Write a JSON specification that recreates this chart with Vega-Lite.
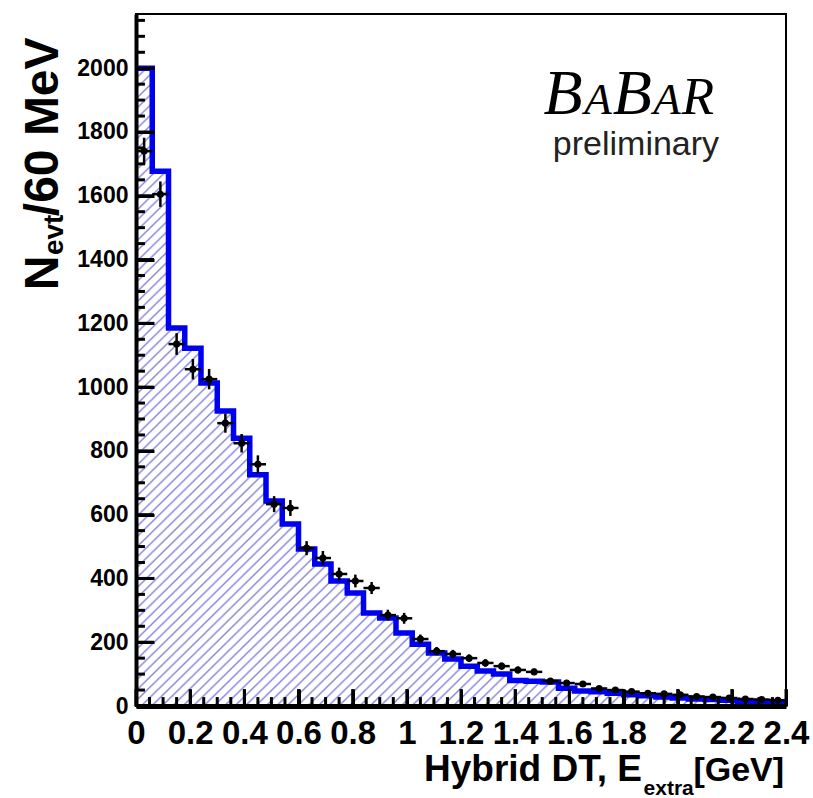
{
"$schema":"https://vega.github.io/schema/vega-lite/v6.json",
"width":650,"height":692,
"autosize":{"type":"none"},
"padding":{"left":136,"top":14,"right":27,"bottom":92},
"background":"white",
"config":{"view":{"stroke":"black","strokeWidth":2},"font":"Liberation Sans"},
"resolve":{"axis":{"x":"independent","y":"independent"}},
"datasets":{
"hist":[{"x":0,"h":2000},{"x":0.06,"h":1677},{"x":0.12,"h":1185},{"x":0.18,"h":1122},{"x":0.24,"h":1013},{"x":0.3,"h":925},{"x":0.36,"h":840},{"x":0.42,"h":725},{"x":0.48,"h":643},{"x":0.54,"h":571},{"x":0.6,"h":492},{"x":0.66,"h":445},{"x":0.72,"h":392},{"x":0.78,"h":354},{"x":0.84,"h":292},{"x":0.9,"h":276},{"x":0.96,"h":229},{"x":1.02,"h":194},{"x":1.08,"h":166},{"x":1.14,"h":147},{"x":1.2,"h":125},{"x":1.26,"h":110},{"x":1.32,"h":100},{"x":1.38,"h":80},{"x":1.44,"h":78},{"x":1.5,"h":75},{"x":1.56,"h":56},{"x":1.62,"h":47},{"x":1.68,"h":45},{"x":1.74,"h":40},{"x":1.8,"h":35},{"x":1.86,"h":32},{"x":1.92,"h":28},{"x":1.98,"h":25},{"x":2.04,"h":22},{"x":2.1,"h":20},{"x":2.16,"h":18},{"x":2.22,"h":15},{"x":2.28,"h":14},{"x":2.34,"h":12},{"x":2.4,"h":12}],
"pts":[{"x0":0,"x1":0.06,"xc":0.03,"d":1740,"lo":1698,"hi":1782},{"x0":0.06,"x1":0.12,"xc":0.09,"d":1605,"lo":1565,"hi":1645},{"x0":0.12,"x1":0.18,"xc":0.15,"d":1135,"lo":1101,"hi":1169},{"x0":0.18,"x1":0.24,"xc":0.21,"d":1056,"lo":1024,"hi":1088},{"x0":0.24,"x1":0.3,"xc":0.27,"d":1025,"lo":993,"hi":1057},{"x0":0.3,"x1":0.36,"xc":0.33,"d":887,"lo":857,"hi":917},{"x0":0.36,"x1":0.42,"xc":0.39,"d":824,"lo":795,"hi":853},{"x0":0.42,"x1":0.48,"xc":0.45,"d":758,"lo":730,"hi":786},{"x0":0.48,"x1":0.54,"xc":0.51,"d":633,"lo":608,"hi":658},{"x0":0.54,"x1":0.6,"xc":0.57,"d":621,"lo":596,"hi":646},{"x0":0.6,"x1":0.66,"xc":0.63,"d":495,"lo":473,"hi":517},{"x0":0.66,"x1":0.72,"xc":0.69,"d":464,"lo":442,"hi":486},{"x0":0.72,"x1":0.78,"xc":0.75,"d":414,"lo":394,"hi":434},{"x0":0.78,"x1":0.84,"xc":0.81,"d":392,"lo":372,"hi":412},{"x0":0.84,"x1":0.9,"xc":0.87,"d":370,"lo":351,"hi":389},{"x0":0.9,"x1":0.96,"xc":0.93,"d":285,"lo":268,"hi":302},{"x0":0.96,"x1":1.02,"xc":0.99,"d":275,"lo":258,"hi":292},{"x0":1.02,"x1":1.08,"xc":1.05,"d":210,"lo":196,"hi":224},{"x0":1.08,"x1":1.14,"xc":1.11,"d":172,"lo":159,"hi":185},{"x0":1.14,"x1":1.2,"xc":1.17,"d":163,"lo":150,"hi":176},{"x0":1.2,"x1":1.26,"xc":1.23,"d":150,"lo":138,"hi":162},{"x0":1.26,"x1":1.32,"xc":1.29,"d":135,"lo":123,"hi":147},{"x0":1.32,"x1":1.38,"xc":1.35,"d":125,"lo":114,"hi":136},{"x0":1.38,"x1":1.44,"xc":1.41,"d":113,"lo":102,"hi":124},{"x0":1.44,"x1":1.5,"xc":1.47,"d":107,"lo":97,"hi":117},{"x0":1.5,"x1":1.56,"xc":1.53,"d":78,"lo":69,"hi":87},{"x0":1.56,"x1":1.62,"xc":1.59,"d":72,"lo":64,"hi":80},{"x0":1.62,"x1":1.68,"xc":1.65,"d":69,"lo":61,"hi":77},{"x0":1.68,"x1":1.74,"xc":1.71,"d":55,"lo":48,"hi":62},{"x0":1.74,"x1":1.8,"xc":1.77,"d":50,"lo":43,"hi":57},{"x0":1.8,"x1":1.86,"xc":1.83,"d":45,"lo":38,"hi":52},{"x0":1.86,"x1":1.92,"xc":1.89,"d":40,"lo":34,"hi":46},{"x0":1.92,"x1":1.98,"xc":1.95,"d":38,"lo":32,"hi":44},{"x0":1.98,"x1":2.04,"xc":2.01,"d":35,"lo":29,"hi":41},{"x0":2.04,"x1":2.1,"xc":2.07,"d":30,"lo":25,"hi":35},{"x0":2.1,"x1":2.16,"xc":2.13,"d":28,"lo":23,"hi":33},{"x0":2.16,"x1":2.22,"xc":2.19,"d":25,"lo":20,"hi":30},{"x0":2.22,"x1":2.28,"xc":2.25,"d":22,"lo":17,"hi":27},{"x0":2.28,"x1":2.34,"xc":2.31,"d":20,"lo":16,"hi":24},{"x0":2.34,"x1":2.4,"xc":2.37,"d":18,"lo":14,"hi":22}],
"xmaj":[{"t":0},{"t":0.2},{"t":0.4},{"t":0.6},{"t":0.8},{"t":1},{"t":1.2},{"t":1.4},{"t":1.6},{"t":1.8},{"t":2},{"t":2.2},{"t":2.4}],
"xmin":[{"t":0.05},{"t":0.1},{"t":0.15},{"t":0.25},{"t":0.3},{"t":0.35},{"t":0.45},{"t":0.5},{"t":0.55},{"t":0.65},{"t":0.7},{"t":0.75},{"t":0.85},{"t":0.9},{"t":0.95},{"t":1.05},{"t":1.1},{"t":1.15},{"t":1.25},{"t":1.3},{"t":1.35},{"t":1.45},{"t":1.5},{"t":1.55},{"t":1.65},{"t":1.7},{"t":1.75},{"t":1.85},{"t":1.9},{"t":1.95},{"t":2.05},{"t":2.1},{"t":2.15},{"t":2.25},{"t":2.3},{"t":2.35}],
"ymaj":[{"v":0},{"v":200},{"v":400},{"v":600},{"v":800},{"v":1000},{"v":1200},{"v":1400},{"v":1600},{"v":1800},{"v":2000}],
"ymin":[{"v":50},{"v":100},{"v":150},{"v":250},{"v":300},{"v":350},{"v":450},{"v":500},{"v":550},{"v":650},{"v":700},{"v":750},{"v":850},{"v":900},{"v":950},{"v":1050},{"v":1100},{"v":1150},{"v":1250},{"v":1300},{"v":1350},{"v":1450},{"v":1500},{"v":1550},{"v":1650},{"v":1700},{"v":1750},{"v":1850},{"v":1900},{"v":1950},{"v":2050},{"v":2100},{"v":2150}],
"one":[{}]
},
"layer":[
{"data":{"name":"hist"},
 "mark":{"type":"area","interpolate":"step-after","fill":{"gradient":"linear","x1":0,"y1":0,"x2":1,"y2":1,"stops":[
{"offset":0,"color":"#88d"},{"offset":0.0016,"color":"rgba(136,136,221,0)"},{"offset":0.0064,"color":"rgba(136,136,221,0)"},{"offset":0.008,"color":"#88d"},{"offset":0.0096,"color":"rgba(136,136,221,0)"},{"offset":0.0144,"color":"rgba(136,136,221,0)"},{"offset":0.016,"color":"#88d"},{"offset":0.0176,"color":"rgba(136,136,221,0)"},{"offset":0.0224,"color":"rgba(136,136,221,0)"},{"offset":0.024,"color":"#88d"},{"offset":0.0256,"color":"rgba(136,136,221,0)"},{"offset":0.0304,"color":"rgba(136,136,221,0)"},{"offset":0.032,"color":"#88d"},{"offset":0.0336,"color":"rgba(136,136,221,0)"},{"offset":0.0384,"color":"rgba(136,136,221,0)"},{"offset":0.04,"color":"#88d"},{"offset":0.0416,"color":"rgba(136,136,221,0)"},{"offset":0.0464,"color":"rgba(136,136,221,0)"},{"offset":0.048,"color":"#88d"},{"offset":0.0496,"color":"rgba(136,136,221,0)"},{"offset":0.0544,"color":"rgba(136,136,221,0)"},{"offset":0.056,"color":"#88d"},{"offset":0.0576,"color":"rgba(136,136,221,0)"},{"offset":0.0624,"color":"rgba(136,136,221,0)"},{"offset":0.064,"color":"#88d"},{"offset":0.0656,"color":"rgba(136,136,221,0)"},{"offset":0.0704,"color":"rgba(136,136,221,0)"},{"offset":0.072,"color":"#88d"},{"offset":0.0736,"color":"rgba(136,136,221,0)"},{"offset":0.0784,"color":"rgba(136,136,221,0)"},
{"offset":0.08,"color":"#88d"},{"offset":0.0816,"color":"rgba(136,136,221,0)"},{"offset":0.0864,"color":"rgba(136,136,221,0)"},{"offset":0.088,"color":"#88d"},{"offset":0.0896,"color":"rgba(136,136,221,0)"},{"offset":0.0944,"color":"rgba(136,136,221,0)"},{"offset":0.096,"color":"#88d"},{"offset":0.0976,"color":"rgba(136,136,221,0)"},{"offset":0.1024,"color":"rgba(136,136,221,0)"},{"offset":0.104,"color":"#88d"},{"offset":0.1056,"color":"rgba(136,136,221,0)"},{"offset":0.1104,"color":"rgba(136,136,221,0)"},{"offset":0.112,"color":"#88d"},{"offset":0.1136,"color":"rgba(136,136,221,0)"},{"offset":0.1184,"color":"rgba(136,136,221,0)"},{"offset":0.12,"color":"#88d"},{"offset":0.1216,"color":"rgba(136,136,221,0)"},{"offset":0.1264,"color":"rgba(136,136,221,0)"},{"offset":0.128,"color":"#88d"},{"offset":0.1296,"color":"rgba(136,136,221,0)"},{"offset":0.1344,"color":"rgba(136,136,221,0)"},{"offset":0.136,"color":"#88d"},{"offset":0.1376,"color":"rgba(136,136,221,0)"},{"offset":0.1424,"color":"rgba(136,136,221,0)"},{"offset":0.144,"color":"#88d"},{"offset":0.1456,"color":"rgba(136,136,221,0)"},{"offset":0.1504,"color":"rgba(136,136,221,0)"},{"offset":0.152,"color":"#88d"},{"offset":0.1536,"color":"rgba(136,136,221,0)"},{"offset":0.1584,"color":"rgba(136,136,221,0)"},
{"offset":0.16,"color":"#88d"},{"offset":0.1616,"color":"rgba(136,136,221,0)"},{"offset":0.1664,"color":"rgba(136,136,221,0)"},{"offset":0.168,"color":"#88d"},{"offset":0.1696,"color":"rgba(136,136,221,0)"},{"offset":0.1744,"color":"rgba(136,136,221,0)"},{"offset":0.176,"color":"#88d"},{"offset":0.1776,"color":"rgba(136,136,221,0)"},{"offset":0.1824,"color":"rgba(136,136,221,0)"},{"offset":0.184,"color":"#88d"},{"offset":0.1856,"color":"rgba(136,136,221,0)"},{"offset":0.1904,"color":"rgba(136,136,221,0)"},{"offset":0.192,"color":"#88d"},{"offset":0.1936,"color":"rgba(136,136,221,0)"},{"offset":0.1984,"color":"rgba(136,136,221,0)"},{"offset":0.2,"color":"#88d"},{"offset":0.2016,"color":"rgba(136,136,221,0)"},{"offset":0.2064,"color":"rgba(136,136,221,0)"},{"offset":0.208,"color":"#88d"},{"offset":0.2096,"color":"rgba(136,136,221,0)"},{"offset":0.2144,"color":"rgba(136,136,221,0)"},{"offset":0.216,"color":"#88d"},{"offset":0.2176,"color":"rgba(136,136,221,0)"},{"offset":0.2224,"color":"rgba(136,136,221,0)"},{"offset":0.224,"color":"#88d"},{"offset":0.2256,"color":"rgba(136,136,221,0)"},{"offset":0.2304,"color":"rgba(136,136,221,0)"},{"offset":0.232,"color":"#88d"},{"offset":0.2336,"color":"rgba(136,136,221,0)"},{"offset":0.2384,"color":"rgba(136,136,221,0)"},
{"offset":0.24,"color":"#88d"},{"offset":0.2416,"color":"rgba(136,136,221,0)"},{"offset":0.2464,"color":"rgba(136,136,221,0)"},{"offset":0.248,"color":"#88d"},{"offset":0.2496,"color":"rgba(136,136,221,0)"},{"offset":0.2544,"color":"rgba(136,136,221,0)"},{"offset":0.256,"color":"#88d"},{"offset":0.2576,"color":"rgba(136,136,221,0)"},{"offset":0.2624,"color":"rgba(136,136,221,0)"},{"offset":0.264,"color":"#88d"},{"offset":0.2656,"color":"rgba(136,136,221,0)"},{"offset":0.2704,"color":"rgba(136,136,221,0)"},{"offset":0.272,"color":"#88d"},{"offset":0.2736,"color":"rgba(136,136,221,0)"},{"offset":0.2784,"color":"rgba(136,136,221,0)"},{"offset":0.28,"color":"#88d"},{"offset":0.2816,"color":"rgba(136,136,221,0)"},{"offset":0.2864,"color":"rgba(136,136,221,0)"},{"offset":0.288,"color":"#88d"},{"offset":0.2896,"color":"rgba(136,136,221,0)"},{"offset":0.2944,"color":"rgba(136,136,221,0)"},{"offset":0.296,"color":"#88d"},{"offset":0.2976,"color":"rgba(136,136,221,0)"},{"offset":0.3024,"color":"rgba(136,136,221,0)"},{"offset":0.304,"color":"#88d"},{"offset":0.3056,"color":"rgba(136,136,221,0)"},{"offset":0.3104,"color":"rgba(136,136,221,0)"},{"offset":0.312,"color":"#88d"},{"offset":0.3136,"color":"rgba(136,136,221,0)"},{"offset":0.3184,"color":"rgba(136,136,221,0)"},
{"offset":0.32,"color":"#88d"},{"offset":0.3216,"color":"rgba(136,136,221,0)"},{"offset":0.3264,"color":"rgba(136,136,221,0)"},{"offset":0.328,"color":"#88d"},{"offset":0.3296,"color":"rgba(136,136,221,0)"},{"offset":0.3344,"color":"rgba(136,136,221,0)"},{"offset":0.336,"color":"#88d"},{"offset":0.3376,"color":"rgba(136,136,221,0)"},{"offset":0.3424,"color":"rgba(136,136,221,0)"},{"offset":0.344,"color":"#88d"},{"offset":0.3456,"color":"rgba(136,136,221,0)"},{"offset":0.3504,"color":"rgba(136,136,221,0)"},{"offset":0.352,"color":"#88d"},{"offset":0.3536,"color":"rgba(136,136,221,0)"},{"offset":0.3584,"color":"rgba(136,136,221,0)"},{"offset":0.36,"color":"#88d"},{"offset":0.3616,"color":"rgba(136,136,221,0)"},{"offset":0.3664,"color":"rgba(136,136,221,0)"},{"offset":0.368,"color":"#88d"},{"offset":0.3696,"color":"rgba(136,136,221,0)"},{"offset":0.3744,"color":"rgba(136,136,221,0)"},{"offset":0.376,"color":"#88d"},{"offset":0.3776,"color":"rgba(136,136,221,0)"},{"offset":0.3824,"color":"rgba(136,136,221,0)"},{"offset":0.384,"color":"#88d"},{"offset":0.3856,"color":"rgba(136,136,221,0)"},{"offset":0.3904,"color":"rgba(136,136,221,0)"},{"offset":0.392,"color":"#88d"},{"offset":0.3936,"color":"rgba(136,136,221,0)"},{"offset":0.3984,"color":"rgba(136,136,221,0)"},
{"offset":0.4,"color":"#88d"},{"offset":0.4016,"color":"rgba(136,136,221,0)"},{"offset":0.4064,"color":"rgba(136,136,221,0)"},{"offset":0.408,"color":"#88d"},{"offset":0.4096,"color":"rgba(136,136,221,0)"},{"offset":0.4144,"color":"rgba(136,136,221,0)"},{"offset":0.416,"color":"#88d"},{"offset":0.4176,"color":"rgba(136,136,221,0)"},{"offset":0.4224,"color":"rgba(136,136,221,0)"},{"offset":0.424,"color":"#88d"},{"offset":0.4256,"color":"rgba(136,136,221,0)"},{"offset":0.4304,"color":"rgba(136,136,221,0)"},{"offset":0.432,"color":"#88d"},{"offset":0.4336,"color":"rgba(136,136,221,0)"},{"offset":0.4384,"color":"rgba(136,136,221,0)"},{"offset":0.44,"color":"#88d"},{"offset":0.4416,"color":"rgba(136,136,221,0)"},{"offset":0.4464,"color":"rgba(136,136,221,0)"},{"offset":0.448,"color":"#88d"},{"offset":0.4496,"color":"rgba(136,136,221,0)"},{"offset":0.4544,"color":"rgba(136,136,221,0)"},{"offset":0.456,"color":"#88d"},{"offset":0.4576,"color":"rgba(136,136,221,0)"},{"offset":0.4624,"color":"rgba(136,136,221,0)"},{"offset":0.464,"color":"#88d"},{"offset":0.4656,"color":"rgba(136,136,221,0)"},{"offset":0.4704,"color":"rgba(136,136,221,0)"},{"offset":0.472,"color":"#88d"},{"offset":0.4736,"color":"rgba(136,136,221,0)"},{"offset":0.4784,"color":"rgba(136,136,221,0)"},
{"offset":0.48,"color":"#88d"},{"offset":0.4816,"color":"rgba(136,136,221,0)"},{"offset":0.4864,"color":"rgba(136,136,221,0)"},{"offset":0.488,"color":"#88d"},{"offset":0.4896,"color":"rgba(136,136,221,0)"},{"offset":0.4944,"color":"rgba(136,136,221,0)"},{"offset":0.496,"color":"#88d"},{"offset":0.4976,"color":"rgba(136,136,221,0)"},{"offset":0.5024,"color":"rgba(136,136,221,0)"},{"offset":0.504,"color":"#88d"},{"offset":0.5056,"color":"rgba(136,136,221,0)"},{"offset":0.5104,"color":"rgba(136,136,221,0)"},{"offset":0.512,"color":"#88d"},{"offset":0.5136,"color":"rgba(136,136,221,0)"},{"offset":0.5184,"color":"rgba(136,136,221,0)"},{"offset":0.52,"color":"#88d"},{"offset":0.5216,"color":"rgba(136,136,221,0)"},{"offset":0.5264,"color":"rgba(136,136,221,0)"},{"offset":0.528,"color":"#88d"},{"offset":0.5296,"color":"rgba(136,136,221,0)"},{"offset":0.5344,"color":"rgba(136,136,221,0)"},{"offset":0.536,"color":"#88d"},{"offset":0.5376,"color":"rgba(136,136,221,0)"},{"offset":0.5424,"color":"rgba(136,136,221,0)"},{"offset":0.544,"color":"#88d"},{"offset":0.5456,"color":"rgba(136,136,221,0)"},{"offset":0.5504,"color":"rgba(136,136,221,0)"},{"offset":0.552,"color":"#88d"},{"offset":0.5536,"color":"rgba(136,136,221,0)"},{"offset":0.5584,"color":"rgba(136,136,221,0)"},
{"offset":0.56,"color":"#88d"},{"offset":0.5616,"color":"rgba(136,136,221,0)"},{"offset":0.5664,"color":"rgba(136,136,221,0)"},{"offset":0.568,"color":"#88d"},{"offset":0.5696,"color":"rgba(136,136,221,0)"},{"offset":0.5744,"color":"rgba(136,136,221,0)"},{"offset":0.576,"color":"#88d"},{"offset":0.5776,"color":"rgba(136,136,221,0)"},{"offset":0.5824,"color":"rgba(136,136,221,0)"},{"offset":0.584,"color":"#88d"},{"offset":0.5856,"color":"rgba(136,136,221,0)"},{"offset":0.5904,"color":"rgba(136,136,221,0)"},{"offset":0.592,"color":"#88d"},{"offset":0.5936,"color":"rgba(136,136,221,0)"},{"offset":0.5984,"color":"rgba(136,136,221,0)"},{"offset":0.6,"color":"#88d"},{"offset":0.6016,"color":"rgba(136,136,221,0)"},{"offset":0.6064,"color":"rgba(136,136,221,0)"},{"offset":0.608,"color":"#88d"},{"offset":0.6096,"color":"rgba(136,136,221,0)"},{"offset":0.6144,"color":"rgba(136,136,221,0)"},{"offset":0.616,"color":"#88d"},{"offset":0.6176,"color":"rgba(136,136,221,0)"},{"offset":0.6224,"color":"rgba(136,136,221,0)"},{"offset":0.624,"color":"#88d"},{"offset":0.6256,"color":"rgba(136,136,221,0)"},{"offset":0.6304,"color":"rgba(136,136,221,0)"},{"offset":0.632,"color":"#88d"},{"offset":0.6336,"color":"rgba(136,136,221,0)"},{"offset":0.6384,"color":"rgba(136,136,221,0)"},
{"offset":0.64,"color":"#88d"},{"offset":0.6416,"color":"rgba(136,136,221,0)"},{"offset":0.6464,"color":"rgba(136,136,221,0)"},{"offset":0.648,"color":"#88d"},{"offset":0.6496,"color":"rgba(136,136,221,0)"},{"offset":0.6544,"color":"rgba(136,136,221,0)"},{"offset":0.656,"color":"#88d"},{"offset":0.6576,"color":"rgba(136,136,221,0)"},{"offset":0.6624,"color":"rgba(136,136,221,0)"},{"offset":0.664,"color":"#88d"},{"offset":0.6656,"color":"rgba(136,136,221,0)"},{"offset":0.6704,"color":"rgba(136,136,221,0)"},{"offset":0.672,"color":"#88d"},{"offset":0.6736,"color":"rgba(136,136,221,0)"},{"offset":0.6784,"color":"rgba(136,136,221,0)"},{"offset":0.68,"color":"#88d"},{"offset":0.6816,"color":"rgba(136,136,221,0)"},{"offset":0.6864,"color":"rgba(136,136,221,0)"},{"offset":0.688,"color":"#88d"},{"offset":0.6896,"color":"rgba(136,136,221,0)"},{"offset":0.6944,"color":"rgba(136,136,221,0)"},{"offset":0.696,"color":"#88d"},{"offset":0.6976,"color":"rgba(136,136,221,0)"},{"offset":0.7024,"color":"rgba(136,136,221,0)"},{"offset":0.704,"color":"#88d"},{"offset":0.7056,"color":"rgba(136,136,221,0)"},{"offset":0.7104,"color":"rgba(136,136,221,0)"},{"offset":0.712,"color":"#88d"},{"offset":0.7136,"color":"rgba(136,136,221,0)"},{"offset":0.7184,"color":"rgba(136,136,221,0)"},
{"offset":0.72,"color":"#88d"},{"offset":0.7216,"color":"rgba(136,136,221,0)"},{"offset":0.7264,"color":"rgba(136,136,221,0)"},{"offset":0.728,"color":"#88d"},{"offset":0.7296,"color":"rgba(136,136,221,0)"},{"offset":0.7344,"color":"rgba(136,136,221,0)"},{"offset":0.736,"color":"#88d"},{"offset":0.7376,"color":"rgba(136,136,221,0)"},{"offset":0.7424,"color":"rgba(136,136,221,0)"},{"offset":0.744,"color":"#88d"},{"offset":0.7456,"color":"rgba(136,136,221,0)"},{"offset":0.7504,"color":"rgba(136,136,221,0)"},{"offset":0.752,"color":"#88d"},{"offset":0.7536,"color":"rgba(136,136,221,0)"},{"offset":0.7584,"color":"rgba(136,136,221,0)"},{"offset":0.76,"color":"#88d"},{"offset":0.7616,"color":"rgba(136,136,221,0)"},{"offset":0.7664,"color":"rgba(136,136,221,0)"},{"offset":0.768,"color":"#88d"},{"offset":0.7696,"color":"rgba(136,136,221,0)"},{"offset":0.7744,"color":"rgba(136,136,221,0)"},{"offset":0.776,"color":"#88d"},{"offset":0.7776,"color":"rgba(136,136,221,0)"},{"offset":0.7824,"color":"rgba(136,136,221,0)"},{"offset":0.784,"color":"#88d"},{"offset":0.7856,"color":"rgba(136,136,221,0)"},{"offset":0.7904,"color":"rgba(136,136,221,0)"},{"offset":0.792,"color":"#88d"},{"offset":0.7936,"color":"rgba(136,136,221,0)"},{"offset":0.7984,"color":"rgba(136,136,221,0)"},
{"offset":0.8,"color":"#88d"},{"offset":0.8016,"color":"rgba(136,136,221,0)"},{"offset":0.8064,"color":"rgba(136,136,221,0)"},{"offset":0.808,"color":"#88d"},{"offset":0.8096,"color":"rgba(136,136,221,0)"},{"offset":0.8144,"color":"rgba(136,136,221,0)"},{"offset":0.816,"color":"#88d"},{"offset":0.8176,"color":"rgba(136,136,221,0)"},{"offset":0.8224,"color":"rgba(136,136,221,0)"},{"offset":0.824,"color":"#88d"},{"offset":0.8256,"color":"rgba(136,136,221,0)"},{"offset":0.8304,"color":"rgba(136,136,221,0)"},{"offset":0.832,"color":"#88d"},{"offset":0.8336,"color":"rgba(136,136,221,0)"},{"offset":0.8384,"color":"rgba(136,136,221,0)"},{"offset":0.84,"color":"#88d"},{"offset":0.8416,"color":"rgba(136,136,221,0)"},{"offset":0.8464,"color":"rgba(136,136,221,0)"},{"offset":0.848,"color":"#88d"},{"offset":0.8496,"color":"rgba(136,136,221,0)"},{"offset":0.8544,"color":"rgba(136,136,221,0)"},{"offset":0.856,"color":"#88d"},{"offset":0.8576,"color":"rgba(136,136,221,0)"},{"offset":0.8624,"color":"rgba(136,136,221,0)"},{"offset":0.864,"color":"#88d"},{"offset":0.8656,"color":"rgba(136,136,221,0)"},{"offset":0.8704,"color":"rgba(136,136,221,0)"},{"offset":0.872,"color":"#88d"},{"offset":0.8736,"color":"rgba(136,136,221,0)"},{"offset":0.8784,"color":"rgba(136,136,221,0)"},
{"offset":0.88,"color":"#88d"},{"offset":0.8816,"color":"rgba(136,136,221,0)"},{"offset":0.8864,"color":"rgba(136,136,221,0)"},{"offset":0.888,"color":"#88d"},{"offset":0.8896,"color":"rgba(136,136,221,0)"},{"offset":0.8944,"color":"rgba(136,136,221,0)"},{"offset":0.896,"color":"#88d"},{"offset":0.8976,"color":"rgba(136,136,221,0)"},{"offset":0.9024,"color":"rgba(136,136,221,0)"},{"offset":0.904,"color":"#88d"},{"offset":0.9056,"color":"rgba(136,136,221,0)"},{"offset":0.9104,"color":"rgba(136,136,221,0)"},{"offset":0.912,"color":"#88d"},{"offset":0.9136,"color":"rgba(136,136,221,0)"},{"offset":0.9184,"color":"rgba(136,136,221,0)"},{"offset":0.92,"color":"#88d"},{"offset":0.9216,"color":"rgba(136,136,221,0)"},{"offset":0.9264,"color":"rgba(136,136,221,0)"},{"offset":0.928,"color":"#88d"},{"offset":0.9296,"color":"rgba(136,136,221,0)"},{"offset":0.9344,"color":"rgba(136,136,221,0)"},{"offset":0.936,"color":"#88d"},{"offset":0.9376,"color":"rgba(136,136,221,0)"},{"offset":0.9424,"color":"rgba(136,136,221,0)"},{"offset":0.944,"color":"#88d"},{"offset":0.9456,"color":"rgba(136,136,221,0)"},{"offset":0.9504,"color":"rgba(136,136,221,0)"},{"offset":0.952,"color":"#88d"},{"offset":0.9536,"color":"rgba(136,136,221,0)"},{"offset":0.9584,"color":"rgba(136,136,221,0)"},
{"offset":0.96,"color":"#88d"},{"offset":0.9616,"color":"rgba(136,136,221,0)"},{"offset":0.9664,"color":"rgba(136,136,221,0)"},{"offset":0.968,"color":"#88d"},{"offset":0.9696,"color":"rgba(136,136,221,0)"},{"offset":0.9744,"color":"rgba(136,136,221,0)"},{"offset":0.976,"color":"#88d"},{"offset":0.9776,"color":"rgba(136,136,221,0)"},{"offset":0.9824,"color":"rgba(136,136,221,0)"},{"offset":0.984,"color":"#88d"},{"offset":0.9856,"color":"rgba(136,136,221,0)"},{"offset":0.9904,"color":"rgba(136,136,221,0)"},{"offset":0.992,"color":"#88d"},{"offset":0.9936,"color":"rgba(136,136,221,0)"},{"offset":0.9984,"color":"rgba(136,136,221,0)"},{"offset":1,"color":"#88d"}]}},
 "encoding":{
  "x":{"field":"x","type":"quantitative","scale":{"domain":[0,2.4],"nice":false,"zero":false},
   "axis":{"orient":"bottom","offset":-17,"values":[0,0.2,0.4,0.6,0.8,1,1.2,1.4,1.6,1.8,2,2.2,2.4],"format":"~g","domain":false,
    "tickSize":17,"tickWidth":3,"tickColor":"black","grid":false,"title":null,"zindex":2,
    "labelFont":"Liberation Sans","labelFontWeight":"bold","labelFontSize":33,"labelColor":"black","labelPadding":11,
    "labelOverlap":false,"labelBound":false,"labelFlush":false}},
  "y":{"field":"h","type":"quantitative","scale":{"domain":[0,2170],"nice":false,"zero":false},
   "axis":{"orient":"left","offset":-18,"values":[0,200,400,600,800,1000,1200,1400,1600,1800,2000],"format":"d","domain":false,
    "tickSize":18,"tickWidth":3,"tickColor":"black","grid":false,"title":null,"zindex":2,
    "labelFont":"Liberation Sans","labelFontWeight":"bold","labelFontSize":23,"labelColor":"black","labelPadding":8,
    "labelOverlap":false,"labelBound":false,"labelFlush":false}}
 }},
{"data":{"name":"hist"},
 "mark":{"type":"line","interpolate":"step-after","color":"#0000f0","strokeWidth":5.5},
 "encoding":{"x":{"field":"x","type":"quantitative","axis":null},"y":{"field":"h","type":"quantitative","axis":null}}},
{"data":{"name":"xmaj"},
 "mark":{"type":"rule","color":"black","strokeWidth":3},
 "encoding":{"x":{"field":"t","type":"quantitative","axis":null},"y":{"datum":0,"type":"quantitative","axis":null},"y2":{"datum":53}}},
{"data":{"name":"xmin"},
 "mark":{"type":"rule","color":"black","strokeWidth":3},
 "encoding":{"x":{"field":"t","type":"quantitative","axis":null},"y":{"datum":0,"type":"quantitative","axis":null},"y2":{"datum":28}}},
{"data":{"name":"ymaj"},
 "mark":{"type":"rule","color":"black","strokeWidth":3},
 "encoding":{"y":{"field":"v","type":"quantitative","axis":null},"x":{"datum":0,"type":"quantitative","axis":null},"x2":{"datum":0.0665}}},
{"data":{"name":"ymin"},
 "mark":{"type":"rule","color":"black","strokeWidth":3},
 "encoding":{"y":{"field":"v","type":"quantitative","axis":null},"x":{"datum":0,"type":"quantitative","axis":null},"x2":{"datum":0.033}}},
{"data":{"name":"pts"},
 "mark":{"type":"rule","color":"black","strokeWidth":2.5},
 "encoding":{
  "x":{"field":"xc","type":"quantitative","axis":{"orient":"bottom","ticks":false,"labels":false,"domain":true,"domainWidth":5,"domainColor":"black","grid":false,"title":null,"zindex":3}},
  "y":{"field":"lo","type":"quantitative","axis":{"orient":"left","ticks":false,"labels":false,"domain":true,"domainWidth":4,"domainColor":"black","grid":false,"title":null,"zindex":3}},
  "y2":{"field":"hi"}}},
{"data":{"name":"pts"},
 "mark":{"type":"rule","color":"black","strokeWidth":2.5},
 "encoding":{"x":{"field":"x0","type":"quantitative","axis":null},"x2":{"field":"x1"},"y":{"field":"d","type":"quantitative","axis":null}}},
{"data":{"name":"pts"},
 "mark":{"type":"point","shape":"circle","filled":true,"color":"black","size":50,"opacity":1},
 "encoding":{"x":{"field":"xc","type":"quantitative","axis":null},"y":{"field":"d","type":"quantitative","axis":null}}},
{"data":{"name":"one"},
 "mark":{"type":"text","font":"Liberation Serif","fontStyle":"italic","fontSize":64,"align":"left","baseline":"alphabetic","color":"black"},
 "encoding":{"x":{"datum":1.505,"type":"quantitative","axis":null},"y":{"datum":1856,"type":"quantitative","axis":null},"text":{"value":"B"}}},
{"data":{"name":"one"},
 "mark":{"type":"text","font":"Liberation Serif","fontStyle":"italic","fontSize":45,"align":"left","baseline":"alphabetic","color":"black"},
 "encoding":{"x":{"datum":1.655,"type":"quantitative","axis":null},"y":{"datum":1856,"type":"quantitative","axis":null},"text":{"value":"A"}}},
{"data":{"name":"one"},
 "mark":{"type":"text","font":"Liberation Serif","fontStyle":"italic","fontSize":64,"align":"left","baseline":"alphabetic","color":"black"},
 "encoding":{"x":{"datum":1.76,"type":"quantitative","axis":null},"y":{"datum":1856,"type":"quantitative","axis":null},"text":{"value":"B"}}},
{"data":{"name":"one"},
 "mark":{"type":"text","font":"Liberation Serif","fontStyle":"italic","fontSize":45,"align":"left","baseline":"alphabetic","color":"black"},
 "encoding":{"x":{"datum":1.91,"type":"quantitative","axis":null},"y":{"datum":1856,"type":"quantitative","axis":null},"text":{"value":"A"}}},
{"data":{"name":"one"},
 "mark":{"type":"text","font":"Liberation Serif","fontStyle":"italic","fontSize":53,"align":"left","baseline":"alphabetic","color":"black"},
 "encoding":{"x":{"datum":2.015,"type":"quantitative","axis":null},"y":{"datum":1856,"type":"quantitative","axis":null},"text":{"value":"R"}}},
{"data":{"name":"one"},
 "mark":{"type":"text","font":"Liberation Sans","fontSize":34,"align":"center","baseline":"alphabetic","color":"#222"},
 "encoding":{"x":{"datum":1.846,"type":"quantitative","axis":null},"y":{"datum":1728,"type":"quantitative","axis":null},"text":{"value":"preliminary"}}},
{"data":{"name":"one"},
 "mark":{"type":"text","font":"Liberation Sans","fontWeight":"bold","fontSize":48,"angle":270,"align":"left","baseline":"alphabetic","color":"black"},
 "encoding":{"x":{"datum":-0.288,"type":"quantitative","axis":null},"y":{"datum":1304,"type":"quantitative","axis":null},"text":{"value":"N"}}},
{"data":{"name":"one"},
 "mark":{"type":"text","font":"Liberation Sans","fontWeight":"bold","fontSize":28,"angle":270,"align":"left","baseline":"alphabetic","color":"black"},
 "encoding":{"x":{"datum":-0.2695,"type":"quantitative","axis":null},"y":{"datum":1414,"type":"quantitative","axis":null},"text":{"value":"evt"}}},
{"data":{"name":"one"},
 "mark":{"type":"text","font":"Liberation Sans","fontWeight":"bold","fontSize":48,"angle":270,"align":"left","baseline":"alphabetic","color":"black"},
 "encoding":{"x":{"datum":-0.288,"type":"quantitative","axis":null},"y":{"datum":1536,"type":"quantitative","axis":null},"text":{"value":"/60 MeV"}}},
{"data":{"name":"one"},
 "mark":{"type":"text","font":"Liberation Sans","fontWeight":"bold","fontSize":37,"align":"right","baseline":"alphabetic","color":"black"},
 "encoding":{"x":{"datum":1.868,"type":"quantitative","axis":null},"y":{"datum":-234,"type":"quantitative","axis":null},"text":{"value":"Hybrid DT, E"}}},
{"data":{"name":"one"},
 "mark":{"type":"text","font":"Liberation Sans","fontWeight":"bold","fontSize":21,"align":"left","baseline":"alphabetic","color":"black"},
 "encoding":{"x":{"datum":1.874,"type":"quantitative","axis":null},"y":{"datum":-280,"type":"quantitative","axis":null},"text":{"value":"extra"}}},
{"data":{"name":"one"},
 "mark":{"type":"text","font":"Liberation Sans","fontWeight":"bold","fontSize":34,"align":"right","baseline":"alphabetic","color":"black"},
 "encoding":{"x":{"datum":2.393,"type":"quantitative","axis":null},"y":{"datum":-234,"type":"quantitative","axis":null},"text":{"value":"[GeV]"}}}
]
}
